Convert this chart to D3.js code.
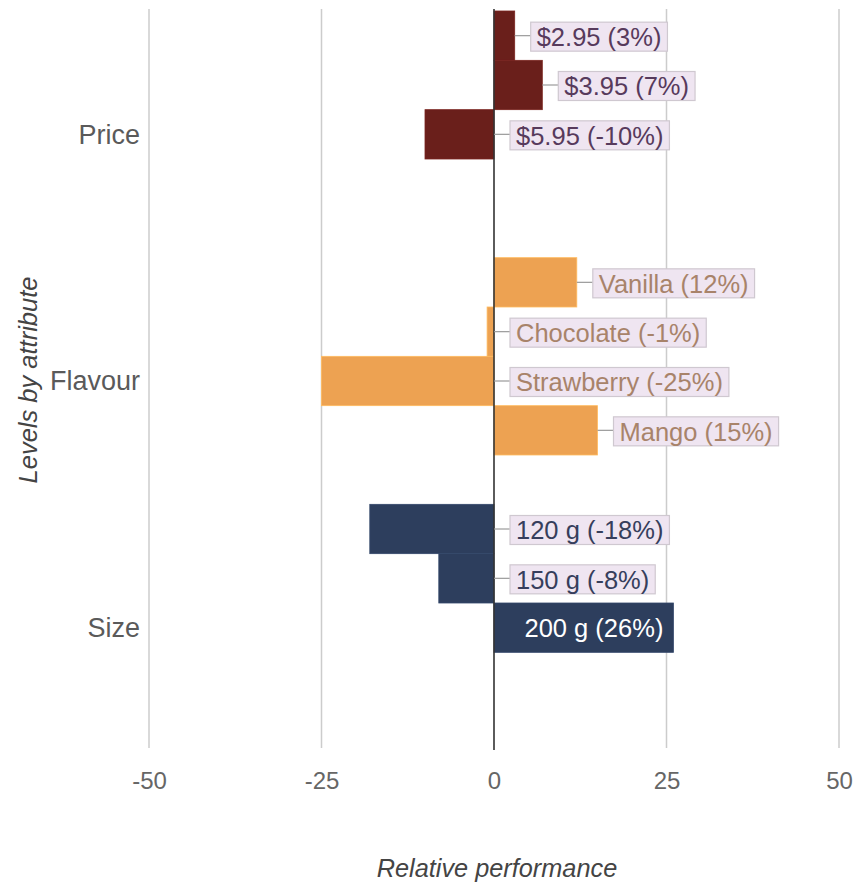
<!DOCTYPE html>
<html>
<head>
<meta charset="utf-8">
<script src="https://cdn.jsdelivr.net/npm/d3@7"></script>
<style>
  html, body { margin: 0; padding: 0; background: #fff; }
  svg { display: block; font-family: "Liberation Sans", Arial, sans-serif; }
</style>
</head>
<body>
<svg id="chart" width="855" height="885"></svg>
<script>
// Attributes and their levels, in display order
const attributes = ["Price", "Flavour", "Size"];
const priceLevels = ["$2.95", "$3.95", "$5.95"];
const priceValues = [3, 7, -10];
const flavourLevels = ["Vanilla", "Chocolate", "Strawberry", "Mango"];
const flavourValues = [12, -1, -25, 15];
const sizeLevels = ["120 g", "150 g", "200 g"];
const sizeValues = [-18, -8, 26];
const xTicks = [-50, -25, 0, 25, 50];
const xDomain = [-50, 50];
const slotsPerAttribute = 5;

const attributeColors = { Price: "#6a1f1b", Flavour: "#eda252", Size: "#2d3e5d" };
const labelTextColors = { Price: "#573a5c", Flavour: "#a8836a", Size: "#363e5c" };

const groups = [
  { attr: "Price", levels: priceLevels, values: priceValues },
  { attr: "Flavour", levels: flavourLevels, values: flavourValues },
  { attr: "Size", levels: sizeLevels, values: sizeValues }
];

// Flatten into rows and build slot keys (including empty padding slots per attribute)
const rows = [];
const slotKeys = [];
groups.forEach(g => {
  for (let i = 0; i < slotsPerAttribute; i++) {
    const key = g.attr + "|" + i;
    slotKeys.push(key);
    if (i < g.levels.length) {
      rows.push({ attr: g.attr, level: g.levels[i], value: g.values[i], key });
    }
  }
});

const svg = d3.select("#chart");
const x = d3.scaleLinear().domain(xDomain).range([149, 839]);
const y = d3.scaleBand().domain(slotKeys).range([11, 751]).paddingInner(0).paddingOuter(0);

// Vertical gridlines
svg.append("g").selectAll("line")
  .data(xTicks.filter(t => t !== 0))
  .join("line")
  .attr("x1", d => x(d)).attr("x2", d => x(d))
  .attr("y1", 9).attr("y2", 748)
  .attr("stroke", "#cccccc").attr("stroke-width", 1.5);

// Bars
svg.append("g").selectAll("rect")
  .data(rows)
  .join("rect")
  .attr("x", d => Math.min(x(0), x(d.value)))
  .attr("width", d => Math.abs(x(d.value) - x(0)))
  .attr("y", d => y(d.key))
  .attr("height", y.bandwidth())
  .attr("fill", d => attributeColors[d.attr])
  .attr("stroke", d => d3.color(attributeColors[d.attr]).brighter(0.4))
  .attr("stroke-width", 0.8);

// Zero baseline
svg.append("line")
  .attr("x1", x(0)).attr("x2", x(0))
  .attr("y1", 9).attr("y2", 750)
  .attr("stroke", "#333").attr("stroke-width", 1.6);

// Value annotations
const labelFont = 25.5;
const padX = 6, boxH = 29, gap = 16;
const ann = svg.append("g");
rows.forEach(d => {
  const text = `${d.level} (${d.value}%)`;
  const cy = y(d.key) + y.bandwidth() / 2;
  const barEnd = x(d.value);
  const barW = Math.abs(barEnd - x(0));
  const t = ann.append("text")
    .attr("font-size", labelFont)
    .text(text);
  const tw = t.node().getComputedTextLength();
  if (d.value > 0 && barW > tw + 2 * padX + 20) {
    // fits inside the bar: white text, right aligned at bar end
    t.attr("x", barEnd - 10).attr("y", cy + labelFont * 0.35)
      .attr("text-anchor", "end").attr("fill", "#ffffff");
  } else {
    const start = Math.max(barEnd, x(0));
    const bx = start + gap;
    ann.insert("line", "text")
      .attr("x1", start).attr("x2", bx)
      .attr("y1", cy).attr("y2", cy)
      .attr("stroke", "#9a9a9a").attr("stroke-width", 1.2);
    ann.insert("rect", "text")
      .attr("x", bx).attr("y", cy - boxH / 2 + 1)
      .attr("width", tw + 2 * padX).attr("height", boxH)
      .attr("fill", "#efe5f1").attr("stroke", "#cfc8d0").attr("stroke-width", 1.2);
    t.attr("x", bx + padX).attr("y", cy + labelFont * 0.36 + 1)
      .attr("fill", labelTextColors[d.attr]);
  }
});

// Attribute (group) labels
svg.append("g").selectAll("text")
  .data(attributes)
  .join("text")
  .attr("x", 140)
  .attr("y", a => {
    const keys = slotKeys.filter(k => k.startsWith(a + "|"));
    const top = y(keys[0]), bottom = y(keys[keys.length - 1]) + y.bandwidth();
    return (top + bottom) / 2 + 27 * 0.35;
  })
  .attr("text-anchor", "end")
  .attr("font-size", 27)
  .attr("fill", "#5a5a5a")
  .text(a => a);

// X axis tick labels (plain hyphen for negatives)
const xAxis = d3.axisBottom(x).tickValues(xTicks).tickSize(0).tickPadding(0).tickFormat(d => String(d));
const gx = svg.append("g").attr("transform", "translate(0,771)").call(xAxis);
gx.select(".domain").remove();
gx.selectAll("text")
  .attr("font-family", "Liberation Sans, Arial, sans-serif")
  .attr("font-size", 24)
  .attr("fill", "#666")
  .attr("dy", "0.74em");

// Axis titles
svg.append("text")
  .attr("x", 497).attr("y", 877)
  .attr("text-anchor", "middle")
  .attr("font-size", 25.3)
  .attr("font-style", "italic")
  .attr("fill", "#444")
  .text("Relative performance");

svg.append("text")
  .attr("transform", "translate(37,380) rotate(-90)")
  .attr("text-anchor", "middle")
  .attr("font-size", 25.5)
  .attr("font-style", "italic")
  .attr("fill", "#444")
  .text("Levels by attribute");
</script>
</body>
</html>
